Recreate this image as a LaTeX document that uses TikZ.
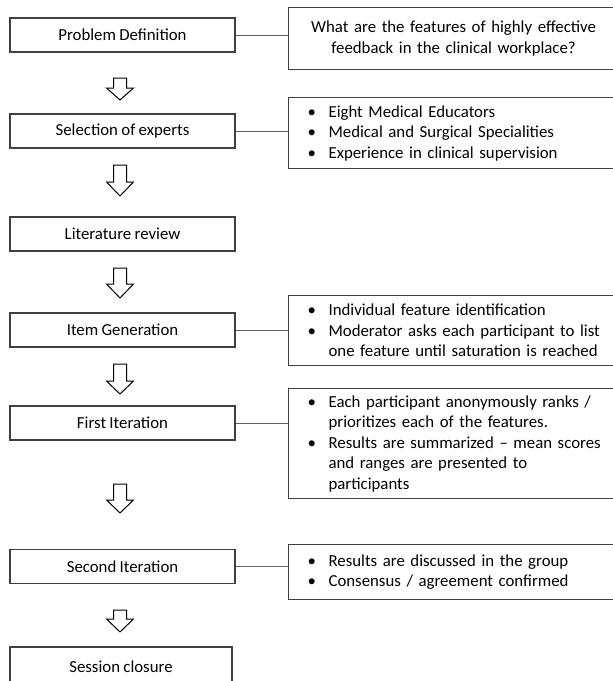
\documentclass[tikz,border=0pt]{standalone}
\usepackage{fontspec}
\setmainfont{Carlito}
\newcommand\myfs{\fontsize{16.8}{20.5}\selectfont\spaceskip=0.2em plus 0.05em minus 0.05em\relax}
\newcommand\bul{\makebox[25pt][l]{\hspace{4pt}\textbullet}}
\newcommand\cont{\hspace*{25pt}}
\definecolor{boxc}{RGB}{64,64,64}
\definecolor{connc}{RGB}{96,96,96}
\begin{document}
\begin{tikzpicture}[x=1pt,y=-1pt,
  lbox/.style={draw=boxc, line width=1.2pt, minimum width=225pt, minimum height=34pt, inner sep=0pt, font=\myfs},
  rbox/.style={draw=boxc, line width=1.2pt, anchor=north west, text width=300pt, inner xsep=15pt, inner ysep=0pt, align=left, font=\myfs},
  conn/.style={draw=connc, line width=0.8pt},
  arr/.style={draw=black, line width=1pt, fill=white, line join=miter}]
\useasboundingbox (0,0) rectangle (613,681);
\newcommand\barrow[3]{\draw[arr] (113.5,#1) -- (126.5,#1) -- (126.5,#2) -- (133.5,#2) -- (120,#3) -- (106.5,#2) -- (113.5,#2) -- cycle;}

% left column
\node[lbox] (pd) at (122.5,35) {Problem Definition};
\node[lbox] (se) at (122.5,131) {Selection of experts};
\node[lbox] (lr) at (122.5,234) {Literature review};
\node[lbox] (ig) at (122.5,330) {Item Generation};
\node[lbox] (fi) at (122.5,423) {First Iteration};
\node[lbox] (si) at (122.5,566.5) {Second Iteration};
\node[lbox, minimum width=222pt, minimum height=40pt] (sc) at (121,667) {Session closure};

% right column
\node[rbox, align=center, minimum height=62pt] (q1) at (288,7)
  {What are the features of highly effective\\feedback in the clinical workplace?};
\node[rbox, minimum height=71pt] (q2) at (288,97)
  {\bul Eight Medical Educators\\\bul Medical and Surgical Specialities\\\bul Experience in clinical supervision};
\node[rbox, minimum height=70pt] (q3) at (288,295)
  {\bul Individual feature identification\\\bul Moderator asks each participant to list\\\cont one feature until saturation is reached};
\node[rbox, minimum height=110pt] (q4) at (288,388)
  {\bul Each participant anonymously ranks /\\\cont prioritizes each of the features.\\\bul Results are summarized -- mean scores\\\cont and ranges are presented to\\\cont participants};
\node[rbox, minimum height=55pt] (q5) at (288,544)
  {\bul Results are discussed in the group\\\bul Consensus / agreement confirmed};

% connectors
\draw[conn] (pd.east) -- (pd.east -| q1.west);
\draw[conn] (se.east) -- (se.east -| q2.west);
\draw[conn] (ig.east) -- (ig.east -| q3.west);
\draw[conn] (fi.east) -- (fi.east -| q4.west);
\draw[conn] (si.east) -- (si.east -| q5.west);

% block arrows
\barrow{78}{88}{100}
\barrow{165}{182}{196}
\barrow{268}{284}{298}
\barrow{364}{381}{394}
\barrow{484}{500}{513}
\barrow{610}{619}{632}
\end{tikzpicture}
\end{document}
